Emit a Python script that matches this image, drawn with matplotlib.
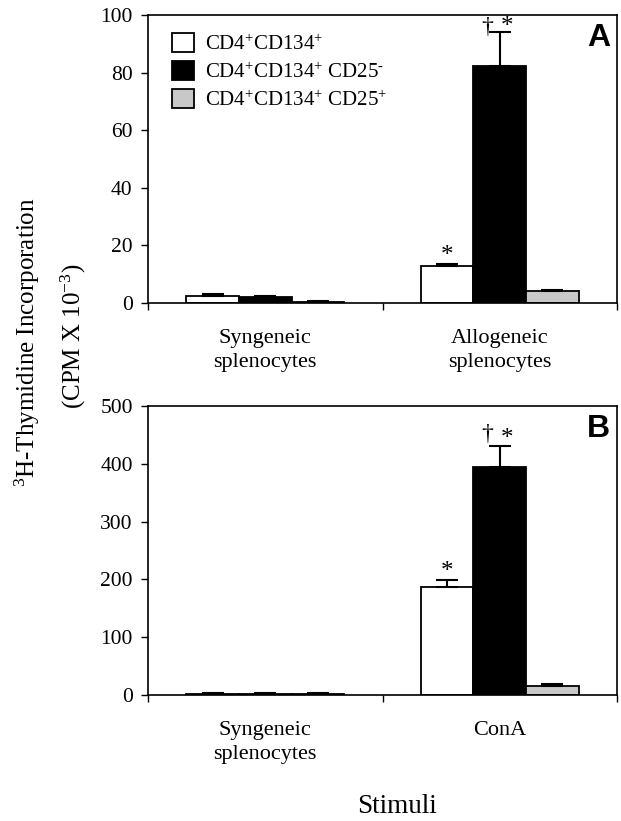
import matplotlib
matplotlib.use("Agg")
import matplotlib.pyplot as plt
import numpy as np
from matplotlib.patches import Patch

plt.rcParams['font.family'] = ['Liberation Serif', 'DejaVu Serif']
plt.rcParams['mathtext.fontset'] = 'custom'
plt.rcParams['mathtext.rm'] = 'Liberation Serif'
plt.rcParams['mathtext.it'] = 'Liberation Serif:italic'
plt.rcParams['mathtext.bf'] = 'Liberation Serif:bold'

series = ['CD4$^{+}$CD134$^{+}$', 'CD4$^{+}$CD134$^{+}$ CD25$^{\u2010}$', 'CD4$^{+}$CD134$^{+}$ CD25$^{+}$']
colors = ['white', 'black', '#c8c8c8']

cats_A = ['Syngeneic\nsplenocytes', 'Allogeneic\nsplenocytes']
vals_A = [[2.5, 13.0], [2.0, 82.4], [0.2, 4.0]]
errs_A = [[0.6, 0.6], [0.4, 11.6], [0.6, 0.6]]

cats_B = ['Syngeneic\nsplenocytes', 'ConA']
vals_B = [[1.0, 187], [1.0, 394], [1.0, 15.6]]
errs_B = [[2.5, 12], [2.5, 37], [2.5, 3]]

yticks_A = [0, 20, 40, 60, 80, 100]
yticks_B = [0, 100, 200, 300, 400, 500]

W, H = 621, 821
fig = plt.figure(figsize=(W / 100, H / 100), dpi=100)

def px_axes(l, t, r, b):
    return fig.add_axes([l / W, 1 - b / H, (r - l) / W, (b - t) / H])

axA = px_axes(148, 15, 617, 303)
axB = px_axes(148, 406, 617, 695)

bw = 0.224
x = np.arange(2)

def draw(ax, cats, vals, errs, yticks, letter, ann):
    for i in range(3):
        pos = x + (i - 1) * bw
        ax.bar(pos, vals[i], width=bw, color=colors[i], edgecolor='black',
               linewidth=1.3, zorder=2,
               yerr=[np.zeros(2), errs[i]], capsize=8,
               error_kw=dict(elinewidth=1.5, capthick=1.5, ecolor='black', zorder=3))
    ax.set_xlim(-0.5, 1.5)
    ax.set_ylim(yticks[0], yticks[-1])
    ax.set_yticks(yticks)
    ax.set_yticklabels([str(t) for t in yticks], fontsize=15.5)
    ax.set_xticks(x)
    ax.set_xticklabels(cats, fontsize=16, linespacing=1.3)
    ax.set_xticks([-0.5, 0.5, 1.5], minor=True)
    ax.tick_params(axis='x', which='major', length=0, pad=19)
    ax.tick_params(axis='x', which='minor', length=5, width=1.0, direction='out')
    ax.tick_params(axis='y', length=5, width=1.0, direction='out', pad=6)
    for s in ax.spines.values():
        s.set_linewidth(1.2)
    ax.text(0.985, 0.92, letter, transform=ax.transAxes, ha='right', va='center',
            fontsize=23, fontweight='bold', family=['Liberation Sans', 'DejaVu Sans'])
    for (xx, yy, s, fs) in ann:
        ax.text(xx, yy, s, ha='center', va='center', fontsize=fs)

annA = [(1 - bw, 16.3, '*', 18), (1 - 0.054, 95.5, '\u2020', 17), (1 + 0.033, 96.0, '*', 18)]
annB = [(1 - bw, 213, '*', 18), (1 - 0.054, 450, '\u2020', 17), (1 + 0.033, 443, '*', 18)]

draw(axA, cats_A, vals_A, errs_A, yticks_A, 'A', annA)
draw(axB, cats_B, vals_B, errs_B, yticks_B, 'B', annB)

handles = [Patch(facecolor=colors[i], edgecolor='black', linewidth=1.3, label=series[i]) for i in range(3)]
axA.legend(handles=handles, loc='upper left', bbox_to_anchor=((172 - 148) / 469, 1 - (33 - 15) / 288),
           frameon=False, fontsize=15, handlelength=1.05, handleheight=1.05,
           labelspacing=0.3, handletextpad=0.55, borderpad=0, borderaxespad=0)

fig.text(27 / W, 1 - 342 / H, '$^{3}$H-Thymidine Incorporation', rotation=90,
         ha='center', va='center', fontsize=18)
fig.text(73 / W, 1 - 336 / H, '(CPM X 10$^{-3}$)', rotation=90,
         ha='center', va='center', fontsize=18)
fig.text(397 / W, 1 - 806 / H, 'Stimuli', ha='center', va='center', fontsize=19.5)

fig.savefig('out.png', dpi=100)
